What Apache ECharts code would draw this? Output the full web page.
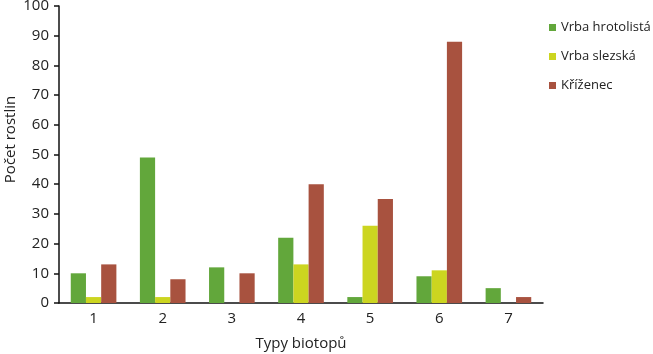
<!DOCTYPE html>
<html>
<head>
    <meta charset="utf-8">
    <title>Počet rostlin podle typu biotopu</title>
    <script src="https://cdn.jsdelivr.net/npm/echarts@6.0.0/dist/echarts.min.js"></script>
    <style>
        body, html { margin: 0; padding: 0; background: #fff; }
        #main { width: 653px; height: 354px; }
    </style>
</head>
<body>
    <div id="main"></div>
    <script>
        var categories = ['1', '2', '3', '4', '5', '6', '7'];
        var hrotolista = [10, 49, 12, 22, 2, 9, 5];
        var slezska = [2, 2, 0, 13, 26, 11, 0];
        var krizenec = [13, 8, 10, 40, 35, 88, 2];
        var yTicks = { min: 0, max: 100, interval: 10 };

        var myChart = echarts.init(document.getElementById('main'));
        var font = 'Open Sans, Lato, sans-serif';

        var option = {
            animation: false,
            color: ['#62a73b', '#ccd520', '#a8523f'],
            textStyle: { fontFamily: font },
            grid: { left: 59, right: 110, top: 6, bottom: 51, outerBoundsMode: 'none' },
            legend: {
                orient: 'vertical',
                left: 544,
                top: 14,
                itemWidth: 7,
                itemHeight: 7,
                itemGap: 12,
                icon: 'rect',
                textStyle: { fontSize: 13, color: '#222', fontFamily: font, lineHeight: 17 }
            },
            xAxis: {
                type: 'category',
                data: categories,
                name: 'Typy biotopů',
                nameLocation: 'middle',
                nameGap: 33,
                nameTextStyle: { fontSize: 15, color: '#222' },
                axisLine: { lineStyle: { color: '#111', width: 1.5 } },
                axisTick: { length: 5, lineStyle: { color: '#111', width: 1.5 } },
                axisLabel: { fontSize: 15, color: '#222', margin: 8 }
            },
            yAxis: {
                type: 'value',
                min: yTicks.min,
                max: yTicks.max,
                interval: yTicks.interval,
                name: 'Počet rostlin',
                nameLocation: 'middle',
                nameGap: 41,
                nameMoveOverlap: false,
                nameTextStyle: { fontSize: 15, color: '#222', padding: [0, 0, 0, 30] },
                splitLine: { show: false },
                axisLine: { show: true, lineStyle: { color: '#111', width: 1.5 } },
                axisTick: { show: true, length: 5, lineStyle: { color: '#111', width: 1.5 } },
                axisLabel: { fontSize: 15, color: '#222', margin: 10 }
            },
            series: [
                { name: 'Vrba hrotolistá', type: 'bar', data: hrotolista, barGap: 0, barCategoryGap: '34%' },
                { name: 'Vrba slezská', type: 'bar', data: slezska, barGap: 0, barCategoryGap: '34%' },
                { name: 'Kříženec', type: 'bar', data: krizenec, barGap: 0, barCategoryGap: '34%' }
            ]
        };

        myChart.setOption(option);
    </script>
</body>
</html>
